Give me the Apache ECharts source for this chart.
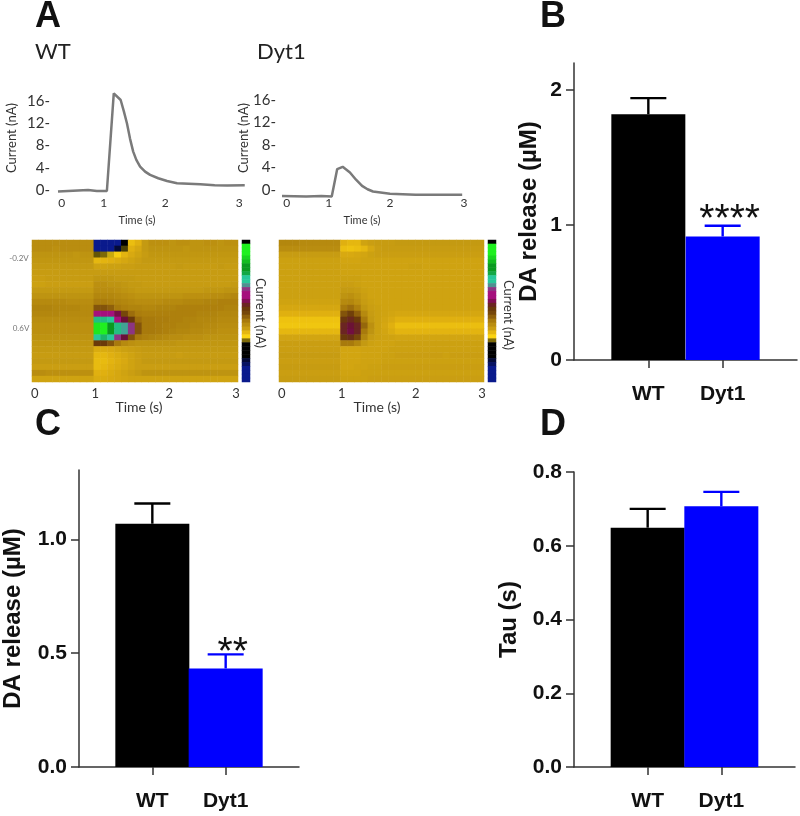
<!DOCTYPE html>
<html><head><meta charset="utf-8">
<style>html,body{margin:0;padding:0;background:#fff}#c{width:800px;height:816px;filter:blur(0.55px)}</style>
<script src="https://cdn.jsdelivr.net/npm/echarts@6/dist/echarts.min.js"></script>
</head><body><div id="c"></div>
<script>
// ---------- data ----------
const groupNames = ['', 'WT', 'Dyt1', ''];
const barColors = ['#000000', '#0000ff'];
const panelBMeans = [1.82, 0.915];
const panelBErrTops = [1.94, 0.995];
const panelCMeans = [1.069, 0.433];
const panelCErrTops = [1.158, 0.495];
const panelDMeans = [0.649, 0.707];
const panelDErrTops = [0.70, 0.746];

const traceTicks = [0, 4, 8, 12, 16];
const traceWT = [[0,-0.3],[0.24,-0.15],[0.48,0],[0.62,-0.2],[0.78,-0.2],[0.89,17.4],[1.0,16.2],[1.05,14.2],[1.1,12],[1.15,9.2],[1.2,6.9],[1.25,5.4],[1.31,4.2],[1.39,3.3],[1.47,2.7],[1.6,2.1],[1.74,1.6],[1.9,1.2],[2.27,1],[2.5,0.85],[2.7,0.8],[2.98,0.85]];
const traceDyt1 = [[0,-1.1],[0.4,-1.2],[0.65,-1.1],[0.82,-1.2],[0.91,3.7],[1.0,4.1],[1.12,3.1],[1.22,1.8],[1.32,0.7],[1.41,0.1],[1.5,-0.3],[1.78,-0.7],[2.2,-0.9],[2.6,-0.9],[2.97,-0.9]];
const timeLabels = ['0', '1', '2', '3'];
const traceWTTickPos = [0.06, 0.73, 1.71, 2.89];
const traceDytTickPos = [0.08, 0.77, 1.78, 3.0];
const heatTickPos = [0.04, 0.92, 2.0, 2.97];

// current level per cell: 24 voltage rows (top to bottom) x 30 time columns
const heatWT = [
[4.4,4.4,4.4,4.4,4.4,4.4,4.4,4.4,4.4,0,0,0,0,1,2.6,3,4,4.3,4.3,4.3,4.2,4.3,4.3,4.2,4.2,4.3,4.3,4.2,4.3,4.3],
[4.4,4.4,4.4,4.3,4.4,4.4,4.4,4.4,4.4,0,0,0,0.6,1.3,3,3.4,4,4.2,4.2,4.2,4.2,4.2,4.1,4.2,4.2,4.2,4.2,4.2,4.2,4.2],
[4.2,4.2,4.2,4.2,4.2,4.2,4.1,4.2,4.2,1.4,1.5,1.8,2.2,2.9,3.3,3.6,3.9,4.1,4.1,4.1,4.1,4.1,4.1,4.1,4.1,4.1,4.1,4.1,4.1,4.1],
[4.1,4.1,4.1,4.1,4.1,4.1,4.1,4.1,4.1,2.8,2.9,3,3.2,3.4,3.6,3.8,4,4,4,4,4,4,4,4,4,4,4,4,4,4],
[4,4,4,4,4,4,4,4,4,3.6,3.6,3.7,3.7,3.8,3.8,3.9,3.9,3.9,3.9,3.9,3.9,4,3.9,3.9,3.9,3.9,3.9,4,3.9,3.9],
[3.9,3.9,3.9,3.9,3.9,3.9,3.9,3.9,3.9,3.9,3.9,3.9,3.9,3.9,3.9,3.9,3.9,3.9,3.9,3.9,3.9,3.9,3.9,3.9,3.9,3.9,3.9,3.9,3.9,3.9],
[3.8,3.8,3.9,3.9,3.9,3.9,3.9,3.9,3.9,4.1,4.1,4.1,4,4,4,3.9,3.9,3.9,3.9,3.9,3.9,3.9,3.9,3.9,3.9,3.9,3.9,3.9,3.9,3.9],
[3.7,3.7,3.8,3.8,3.8,3.8,3.8,3.8,3.8,4.3,4.3,4.2,4.2,4.1,4,4,3.9,3.9,3.9,3.9,3.9,3.9,3.9,3.9,3.9,3.9,3.9,3.9,3.9,4],
[4,4,4,4,4,4,4,4,4,4.4,4.4,4.4,4.3,4.2,4.1,4,4,4,4,4,4,4,4,4,4,4.1,4.1,4.1,4.2,4.2],
[4.2,4.2,4.2,4.2,4.2,4.2,4.2,4.2,4.2,4.6,4.6,4.6,4.5,4.4,4.3,4.2,4.2,4.2,4.2,4.2,4.2,4.2,4.3,4.3,4.3,4.3,4.4,4.4,4.5,4.6],
[4.5,4.5,4.5,4.5,4.5,4.4,4.4,4.4,4.4,4.9,4.9,4.8,4.7,4.6,4.5,4.4,4.4,4.4,4.4,4.5,4.5,4.5,4.6,4.6,4.6,4.7,4.7,4.8,4.8,4.8],
[4.7,4.7,4.7,4.6,4.6,4.6,4.6,4.5,4.5,5.6,5.6,5.4,5,4.8,4.7,4.7,4.6,4.6,4.7,4.7,4.7,4.8,4.8,4.8,4.8,4.8,4.8,4.8,4.7,4.7],
[4.6,4.6,4.6,4.6,4.5,4.5,4.5,4.5,4.5,8,8,8,7.2,5.8,5.2,4.9,4.8,4.8,4.8,4.8,4.8,4.8,4.8,4.8,4.7,4.7,4.7,4.6,4.6,4.6],
[4.4,4.4,4.4,4.4,4.4,4.4,4.4,4.4,4.4,9.2,9.2,9,8,7,6,5.2,5,5,4.9,4.9,4.8,4.8,4.7,4.7,4.6,4.6,4.6,4.5,4.5,4.5],
[4.3,4.3,4.3,4.3,4.3,4.3,4.3,4.3,4.3,10.9,11,10,9.2,8.8,8.2,5.6,5,5,4.9,4.8,4.8,4.7,4.7,4.6,4.6,4.5,4.5,4.4,4.4,4.4],
[4.3,4.3,4.3,4.3,4.3,4.3,4.3,4.3,4.3,10.9,11,10,9.2,8.8,8.2,5.6,5,5,4.9,4.8,4.7,4.6,4.6,4.5,4.5,4.4,4.4,4.3,4.3,4.3],
[4.2,4.2,4.2,4.2,4.2,4.2,4.2,4.2,4.2,9,9.4,9,8.2,7,5.6,5,4.8,4.7,4.6,4.5,4.4,4.4,4.3,4.3,4.3,4.2,4.2,4.2,4.2,4.2],
[4.1,4.1,4.1,4.1,4.1,4.1,4.1,4.1,4.1,6,6,5.6,5,4.5,4.3,4.2,4.2,4.2,4.2,4.2,4.2,4.1,4.1,4.1,4.1,4.1,4.1,4.1,4.1,4.1],
[4,4,4,4,4,4,4,4,4,3.2,3.2,3.3,3.5,3.7,3.8,3.9,4,4,4,4,4,4,4,4,4,4,4,4,4,4],
[3.9,3.9,3.9,3.9,3.9,3.9,3.9,3.9,3.9,2.8,2.8,3,3.2,3.4,3.6,3.8,3.9,3.9,3.9,3.9,3.9,3.8,3.9,3.9,3.9,3.9,3.9,3.9,3.9,3.9],
[4,4,4,4,4,4,4,4,4,2.7,2.7,2.9,3.1,3.3,3.6,3.8,4,4,4,4,4,4,4,4,4,4,4,4,4,4],
[3.8,3.8,3.8,3.8,3.8,3.8,3.8,3.8,3.8,2.7,2.8,3,3.2,3.4,3.6,3.8,3.8,3.8,3.8,3.8,3.8,3.8,3.8,3.8,3.8,3.8,3.8,3.8,3.8,3.8],
[4.4,4.4,4.3,4.3,4.3,4.3,4.3,4.3,4.3,3,3,3.2,3.4,3.6,3.8,4,4.2,4.2,4.2,4.2,4.2,4.2,4.2,4.2,4.2,4.2,4.2,4.2,4.2,4.2],
[3.6,3.6,3.6,3.6,3.6,3.6,3.6,3.6,3.6,3.2,3.2,3.3,3.4,3.5,3.6,3.6,3.6,3.6,3.6,3.6,3.6,3.6,3.6,3.6,3.6,3.6,3.6,3.6,3.6,3.6]
];
const heatDyt1 = [
[4.6,4.6,4.6,4.5,4.5,4.5,4.5,4.5,4.5,3,2.8,2.8,3.6,3.8,3.9,3.9,3.9,4,4,4,4,4,4,4,4,4,4,4,4,4],
[4.4,4.4,4.4,4.4,4.4,4.4,4.4,4.4,4.4,2.6,2.5,2.6,2.8,3.4,3.8,3.9,3.9,3.9,3.9,3.9,3.9,3.9,3.9,3.9,3.9,3.9,3.9,3.9,3.9,3.9],
[3.9,3.9,3.9,3.9,3.9,3.9,3.9,3.9,3.9,3.3,3.3,3.4,3.5,3.7,3.8,3.8,3.8,3.8,3.8,3.8,3.8,3.8,3.8,3.8,3.8,3.8,3.8,3.8,3.8,3.8],
[3.7,3.7,3.7,3.7,3.7,3.7,3.7,3.7,3.7,3.5,3.5,3.5,3.6,3.6,3.6,3.6,3.6,3.6,3.6,3.6,3.6,3.6,3.6,3.6,3.6,3.6,3.6,3.6,3.6,3.6],
[3.7,3.7,3.7,3.7,3.7,3.7,3.7,3.7,3.7,3.6,3.6,3.6,3.6,3.6,3.6,3.6,3.6,3.6,3.6,3.7,3.7,3.6,3.6,3.6,3.6,3.6,3.6,3.6,3.6,3.6],
[3.7,3.7,3.7,3.7,3.7,3.7,3.7,3.7,3.7,3.6,3.6,3.6,3.6,3.6,3.6,3.6,3.6,3.6,3.6,3.6,3.6,3.6,3.6,3.6,3.6,3.6,3.6,3.6,3.6,3.6],
[3.7,3.7,3.7,3.7,3.7,3.7,3.7,3.7,3.7,3.7,3.7,3.7,3.6,3.6,3.6,3.6,3.6,3.6,3.6,3.6,3.6,3.6,3.6,3.6,3.6,3.6,3.6,3.6,3.6,3.6],
[3.7,3.7,3.7,3.7,3.7,3.7,3.7,3.7,3.7,3.8,3.8,3.7,3.6,3.6,3.6,3.6,3.6,3.6,3.6,3.6,3.6,3.6,3.6,3.6,3.6,3.6,3.6,3.6,3.6,3.6],
[3.7,3.7,3.7,3.7,3.7,3.7,3.7,3.7,3.7,4,4,3.9,3.7,3.6,3.6,3.6,3.6,3.6,3.6,3.6,3.6,3.6,3.6,3.6,3.6,3.6,3.6,3.6,3.6,3.6],
[3.7,3.7,3.7,3.7,3.7,3.7,3.7,3.7,3.7,4.2,4.3,4.1,3.8,3.6,3.6,3.6,3.6,3.6,3.6,3.6,3.6,3.6,3.6,3.6,3.6,3.6,3.6,3.6,3.6,3.6],
[3.6,3.6,3.6,3.6,3.6,3.6,3.6,3.6,3.6,4.5,4.6,4.3,3.9,3.7,3.6,3.6,3.6,3.6,3.6,3.6,3.6,3.6,3.6,3.6,3.6,3.6,3.6,3.6,3.6,3.6],
[3.4,3.4,3.4,3.4,3.4,3.4,3.4,3.4,3.4,5,5.2,4.8,4.1,3.8,3.7,3.6,3.6,3.6,3.6,3.6,3.6,3.6,3.6,3.6,3.6,3.6,3.6,3.6,3.6,3.6],
[3,3,3,3,3,3,3,3,3,5.6,5.9,5.4,4.5,3.9,3.7,3.6,3.5,3.4,3.4,3.4,3.4,3.4,3.4,3.4,3.4,3.4,3.4,3.4,3.4,3.4],
[2.5,2.5,2.5,2.5,2.5,2.5,2.5,2.5,2.5,6.1,6.4,6,5,4,3.7,3.5,3.3,3,3,3,3,3,3,3,3,3,3,3,3,3],
[2.4,2.4,2.4,2.4,2.4,2.4,2.4,2.4,2.4,6.5,6.9,6.5,5.3,4.3,3.7,3.4,3,2.6,2.6,2.6,2.6,2.6,2.6,2.6,2.6,2.6,2.6,2.6,2.6,2.6],
[2.8,2.8,2.8,2.8,2.8,2.8,2.8,2.8,2.8,6.5,7.1,6.5,5,4.2,3.7,3.5,3.2,2.9,2.9,2.9,2.9,2.9,2.9,2.9,2.9,2.9,2.9,2.9,2.9,2.9],
[3.5,3.5,3.5,3.5,3.5,3.5,3.5,3.5,3.5,6,6.2,5.8,4.6,3.9,3.7,3.6,3.6,3.5,3.5,3.5,3.5,3.5,3.5,3.5,3.5,3.5,3.5,3.5,3.5,3.5],
[3.8,3.8,3.8,3.8,3.8,3.8,3.8,3.8,3.8,5,5,4.6,4,3.7,3.6,3.6,3.6,3.7,3.7,3.7,3.7,3.7,3.7,3.7,3.7,3.7,3.7,3.7,3.7,3.7],
[3.8,3.8,3.8,3.8,3.8,3.8,3.8,3.8,3.8,3.5,3.5,3.5,3.6,3.6,3.6,3.6,3.7,3.7,3.7,3.7,3.7,3.7,3.7,3.7,3.7,3.7,3.7,3.7,3.7,3.7],
[3.9,3.9,3.9,3.9,3.9,3.9,3.9,3.9,3.9,3.5,3.5,3.5,3.6,3.6,3.6,3.7,3.7,3.8,3.8,3.8,3.8,3.8,3.8,3.8,3.7,3.8,3.8,3.8,3.8,3.8],
[3.8,3.8,3.8,3.8,3.8,3.8,3.8,3.8,3.8,3.5,3.5,3.5,3.6,3.6,3.6,3.7,3.7,3.7,3.7,3.7,3.7,3.7,3.7,3.7,3.7,3.7,3.7,3.7,3.7,3.7],
[3.9,3.9,3.9,3.9,3.9,3.9,3.9,3.9,3.9,3.5,3.5,3.6,3.6,3.7,3.7,3.8,3.8,3.8,3.8,3.8,3.8,3.8,3.8,3.8,3.8,3.8,3.8,3.8,3.8,3.8],
[3.8,3.8,3.8,3.8,3.8,3.8,3.8,3.8,3.8,3.6,3.6,3.6,3.7,3.7,3.7,3.7,3.7,3.7,3.7,3.7,3.7,3.7,3.7,3.7,3.7,3.7,3.7,3.7,3.7,3.7],
[3.9,3.9,3.9,3.9,3.9,3.9,3.9,3.9,3.9,3.7,3.7,3.7,3.7,3.8,3.8,3.8,3.8,3.8,3.8,3.8,3.8,3.8,3.8,3.8,3.8,3.8,3.8,3.8,3.8,3.8]
];
const colorBarLevels = [1,11,11,11,10.7,10.4,10,10,9.7,9,9,8.7,8.2,8,8,7.4,6.5,6,5.8,5.4,5,4.4,3.8,2.8,2,1.5,1,1,1,1,0.6,0.3,0,0,0,0];
const levelColors = ['#0a1a8c','#000000','#fbd410','#e0b010','#c49a12','#a87a0c','#6a3a0a','#6b0f3a','#a5107d','#28c89a','#0a9a20','#20f020'];

// ---------- layout ----------
const BAR = 'Liberation Sans';
const THIN = 'Lato';
const ink = '#333';
const grids = [], xAxes = [], yAxes = [], series = [];

function hm(matrix){ const out=[]; matrix.forEach((row,r)=>row.forEach((v,c)=>out.push([c,r,v]))); return out; }
const idx = n => Array.from({length:n},(_,i)=>String(i));

function tracePanel(box, trace, tickPos, perTitle){
  const g = grids.length;
  grids.push(box);
  const xi = xAxes.length, yi = yAxes.length;
  xAxes.push({type:'value',gridIndex:g,min:0,max:3,axisLine:{show:false},axisTick:{show:false},splitLine:{show:false},
    axisLabel:{customValues:tickPos,margin:-4,fontFamily:THIN,fontSize:12,color:ink,showMinLabel:true,showMaxLabel:true,
      formatter:v=>timeLabels[tickPos.indexOf(v)]}});
  yAxes.push({type:'value',gridIndex:g,min:-2,max:18,interval:2,axisLine:{show:false},axisTick:{show:false},splitLine:{show:false},
    axisLabel:{margin:perTitle,fontFamily:THIN,fontSize:15,color:ink,formatter:v=>traceTicks.includes(v)?v+'-':''}});
  series.push({type:'line',xAxisIndex:xi,yAxisIndex:yi,data:trace,showSymbol:false,smooth:false,silent:true,
    lineStyle:{color:'#7a7a7a',width:2.5}});
}
function heatPanel(box, barBox, matrix){
  const g = grids.length;
  grids.push(box);
  const xi = xAxes.length, yi = yAxes.length;
  xAxes.push({type:'category',gridIndex:g,data:idx(30),show:false});
  xAxes.push({type:'value',gridIndex:g,position:'bottom',min:0,max:3,axisLine:{show:false},axisTick:{show:false},splitLine:{show:false},
    axisLabel:{customValues:heatTickPos,margin:5,fontFamily:THIN,fontSize:13,color:ink,
      formatter:v=>timeLabels[heatTickPos.indexOf(v)]}});
  yAxes.push({type:'category',gridIndex:g,data:idx(24),inverse:true,show:false});
  series.push({type:'heatmap',xAxisIndex:xi,yAxisIndex:yi,data:hm(matrix),silent:true,progressive:0,emphasis:{disabled:true}});
  const g2 = grids.length;
  grids.push(barBox);
  const xi2 = xAxes.length, yi2 = yAxes.length;
  xAxes.push({type:'category',gridIndex:g2,data:['0'],show:false});
  yAxes.push({type:'category',gridIndex:g2,data:idx(colorBarLevels.length),inverse:true,show:false});
  series.push({type:'heatmap',xAxisIndex:xi2,yAxisIndex:yi2,data:colorBarLevels.map((v,i)=>[0,i,v]),silent:true,emphasis:{disabled:true}});
}
function barPanel(box, yCfg, yName, means, tops, sig){
  const g = grids.length;
  grids.push(box);
  const xi = xAxes.length, yi = yAxes.length;
  xAxes.push({type:'category',gridIndex:g,data:groupNames,boundaryGap:false,
    axisLine:{lineStyle:{color:ink,width:1.5}},
    axisTick:{length:8,lineStyle:{color:ink,width:1.5},interval:(i,v)=>v!==''},
    axisLabel:{margin:24,fontFamily:BAR,fontWeight:'bold',fontSize:21,color:'#111',interval:0,hideOverlap:false}});
  yAxes.push(Object.assign({type:'value',gridIndex:g,splitLine:{show:false},
    axisLine:{show:true,lineStyle:{color:ink,width:1.5}},
    axisTick:{show:true,length:8,lineStyle:{color:ink,width:1.5},customValues:yCfg.ticks},
    axisLabel:{margin:12,fontFamily:BAR,fontWeight:'bold',fontSize:21,color:'#111',customValues:yCfg.ticks,
      formatter:v=>v.toFixed(yCfg.digits)},
    name:yName,nameLocation:'middle',nameGap:yCfg.nameGap,
    nameTextStyle:{fontFamily:BAR,fontWeight:'bold',fontSize:24,color:'#111'}},{min:0,max:yCfg.max}));
  series.push({type:'bar',xAxisIndex:xi,yAxisIndex:yi,barWidth:74,silent:true,
    data:means.map((v,i)=>({value:[i+1,v],itemStyle:{color:barColors[i]}}))});
  series.push({type:'custom',xAxisIndex:xi,yAxisIndex:yi,silent:true,
    data:tops.map((v,i)=>[i+1,v,means[i]]),encode:{x:0,y:1},z:5,
    renderItem:(p,api)=>{
      const i=p.dataIndex, top=api.coord([api.value(0),api.value(1)]), base=api.coord([api.value(0),api.value(2)]);
      const st={stroke:barColors[i],lineWidth:2.4};
      const kids=[
        {type:'line',shape:{x1:top[0],y1:top[1],x2:base[0],y2:base[1]},style:st},
        {type:'line',shape:{x1:top[0]-18,y1:top[1],x2:top[0]+18,y2:top[1]},style:st}];
      if(sig && sig.index===i) kids.push({type:'text',style:{text:sig.text,x:top[0]+7,y:top[1]+sig.dy,
        align:'center',verticalAlign:'middle',font:'39px "Liberation Sans"',fill:'#111'}});
      return {type:'group',children:kids};
    }});
}

// Panel A
tracePanel({left:58,width:188,top:90,height:111},traceWT,traceWTTickPos,8);
tracePanel({left:282,width:182,top:89,height:112},traceDyt1,traceDytTickPos,6);
heatPanel({left:32,width:206,top:240,height:142},{left:242,width:8,top:240,height:142},heatWT);
heatPanel({left:279,width:205,top:240,height:142},{left:488,width:8,top:240,height:142},heatDyt1);
// Panels B, C, D
barPanel({left:574,width:223,top:63,height:297},{max:2.2,ticks:[0,1,2],digits:0,nameGap:33},'DA release (µM)',panelBMeans,panelBErrTops,{index:1,text:'****',dy:-5});
barPanel({left:77,width:222,top:470,height:297},{max:1.305,ticks:[0,0.5,1],digits:1,nameGap:54},'DA release (µM)',panelCMeans,panelCErrTops,{index:1,text:'**',dy:-1});
barPanel({left:574,width:221,top:472,height:295},{max:0.8,ticks:[0,0.2,0.4,0.6,0.8],digits:1,nameGap:53},'Tau (s)',panelDMeans,panelDErrTops,null);

function txt(t,x,y,font,fill,rot,align){
  return {type:'text',x,y,rotation:rot||0,style:{text:t,font,fill:fill||'#111',align:align||'center',verticalAlign:'middle'}};
}
const lettersFont='bold 36px "Liberation Sans"';
const graphics=[
  txt('A',48,17,lettersFont),txt('B',553,17,lettersFont),txt('C',48,425,lettersFont),txt('D',553,425,lettersFont),
  txt('WT',35,52,'22px Lato','#222',0,'left'),txt('Dyt1',257,52,'22px Lato','#222',0,'left'),
  txt('Current (nA)',12,138,'13px Lato',ink,Math.PI/2),txt('Current (nA)',244,138,'13px Lato',ink,Math.PI/2),
  txt('Time (s)',137,220,'11px Lato',ink),txt('Time (s)',362,220,'11px Lato',ink),
  txt('Time (s)',139,407,'14px Lato',ink),txt('Time (s)',377,407,'14px Lato',ink),
  txt('-0.2V',19,258,'8px Lato','#777'),txt('0.6V',21,328,'8px Lato','#777'),
  txt('Current (nA)',260,313,'13px Lato',ink,-Math.PI/2),txt('Current (nA)',508,315,'13px Lato',ink,-Math.PI/2)
];

const heatSeries = series.map((s,i)=>s.type==='heatmap'?i:-1).filter(i=>i>=0);
const chart = echarts.init(document.getElementById('c'),null,{renderer:'canvas'});
chart.setOption({
  animation:false,backgroundColor:'#fff',
  grid:grids.map(g=>Object.assign({containLabel:false},g)),
  xAxis:xAxes,yAxis:yAxes,series,
  visualMap:{show:false,type:'continuous',min:0,max:11,seriesIndex:heatSeries,inRange:{color:levelColors}},
  graphic:graphics
});
</script></body></html>
